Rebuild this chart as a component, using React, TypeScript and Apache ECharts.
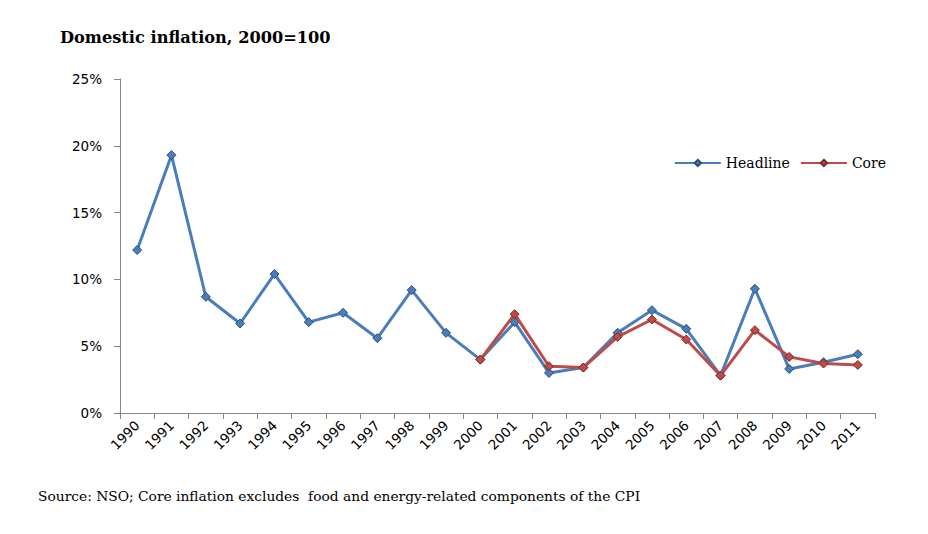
import React, { useEffect, useRef } from "react";
import * as echarts from "echarts";

const years = ["1990","1991","1992","1993","1994","1995","1996","1997","1998","1999","2000","2001","2002","2003","2004","2005","2006","2007","2008","2009","2010","2011"];
const headline = [12.2, 19.3, 8.7, 6.7, 10.4, 6.8, 7.5, 5.6, 9.2, 6.0, 4.0, 6.8, 3.0, 3.4, 6.0, 7.7, 6.3, 2.8, 9.3, 3.3, 3.8, 4.4];
const core = [null, null, null, null, null, null, null, null, null, null, 4.0, 7.4, 3.5, 3.4, 5.7, 7.0, 5.5, 2.8, 6.2, 4.2, 3.7, 3.6];
const yTicks = [0, 5, 10, 15, 20, 25];

export default function App() {
  const ref = useRef<HTMLDivElement>(null);
  useEffect(() => {
    const chart = echarts.init(ref.current!, null, { renderer: "svg" });
    chart.setOption({
      animation: false,
      backgroundColor: "#ffffff",
      title: {
        text: "Domestic inflation, 2000=100",
        left: 47,
        top: 16,
        textStyle: { fontFamily: "DejaVu Serif", fontWeight: "bold", fontSize: 16.2, color: "#000" },
      },
      graphic: [
        {
          type: "text",
          left: 30,
          top: 481,
          style: {
            text: "Source: NSO; Core inflation excludes  food and energy-related components of the CPI",
            fontFamily: "DejaVu Serif",
            fontSize: 13.8,
            fill: "#000",
          },
        },
      ],
      legend: {
        right: 29,
        top: 143,
        itemWidth: 46,
        itemHeight: 8,
        itemGap: 10,
        textStyle: { fontFamily: "DejaVu Serif", fontSize: 14, color: "#000" },
        data: ["Headline", "Core"],
      },
      grid: { left: 112, right: 45, top: 71, bottom: 113, containLabel: false },
      xAxis: {
        type: "category",
        data: years,
        boundaryGap: true,
        axisLine: { lineStyle: { color: "#868686" } },
        axisTick: { show: true, inside: false, length: 6, lineStyle: { color: "#868686" } },
        axisLabel: {
          rotate: 45,
          interval: 0,
          margin: 10,
          fontFamily: "DejaVu Sans",
          fontSize: 13.5,
          color: "#000",
        },
      },
      yAxis: {
        type: "value",
        min: 0,
        max: 25,
        interval: 5,
        axisLine: { show: true, lineStyle: { color: "#868686" } },
        axisTick: { show: true, length: 6, lineStyle: { color: "#868686" } },
        splitLine: { show: false },
        axisLabel: {
          formatter: (v: number) => (yTicks.includes(v) ? v + "%" : ""),
          fontFamily: "DejaVu Sans",
          fontSize: 13.5,
          color: "#000",
          margin: 18,
        },
      },
      series: [
        {
          name: "Headline",
          type: "line",
          data: headline,
          symbol: "diamond",
          symbolSize: 9,
          lineStyle: { color: "#4a7ebb", width: 3 },
          itemStyle: { color: "#4a7ebb", borderColor: "#2c4d75", borderWidth: 1 },
          z: 2,
        },
        {
          name: "Core",
          type: "line",
          data: core,
          symbol: "diamond",
          symbolSize: 9,
          lineStyle: { color: "#be4b48", width: 3 },
          itemStyle: { color: "#be4b48", borderColor: "#772c2a", borderWidth: 1 },
          z: 3,
        },
      ],
    });
    return () => chart.dispose();
  }, []);
  return <div ref={ref} style={{ width: 912, height: 518 }} />;
}
